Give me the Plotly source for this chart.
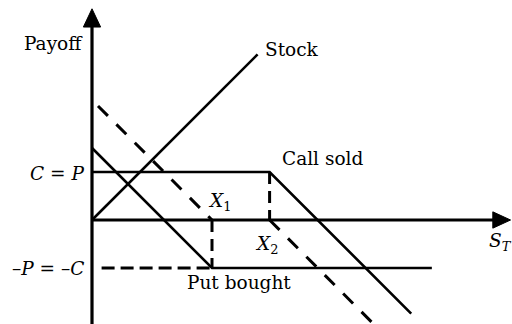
import plotly.graph_objects as go

# ---- data (abstract payoff units) ----
premium = 1.0            # C = P
strike_x1 = 2.5
strike_x2 = 3.7

stock_x = [0.0, 3.45]
stock_y = [0.0, 3.45]

call_sold_x = [0.0, strike_x2, 6.65]
call_sold_y = [premium, premium, -1.95]

put_bought_x = [0.0, strike_x1, 7.08]
put_bought_y = [1.5, -premium, -premium]

upper_dash_x = [0.125, strike_x1]
upper_dash_y = [2.375, 0.0]

lower_dash_x = [strike_x2, 6.2]
lower_dash_y = [0.0, -2.5]

x1_drop_x = [strike_x1, strike_x1]
x1_drop_y = [0.0, -premium]

x2_drop_x = [strike_x2, strike_x2]
x2_drop_y = [premium, 0.0]

neg_prem_x = [0.2, strike_x1]
neg_prem_y = [-premium, -premium]

# ---- layout constants ----
X_MIN, X_MAX = -92 / 48, 420 / 48
Y_MIN, Y_MAX = -104 / 48, 220 / 48
Y_ARROW_TIP, Y_ARROW_BASE, Y_ARROW_HALF = 4.40, 4.02, 0.18
X_ARROW_TIP, X_ARROW_BASE, X_ARROW_HALF = 8.72, 8.35, 0.17
FONT = "DejaVu Serif"
FS = 18.5

fig = go.Figure()

def line(x, y, width=2.6, dash="solid"):
    fig.add_trace(go.Scatter(x=x, y=y, mode="lines",
                             line=dict(color="black", width=width, dash=dash),
                             hoverinfo="skip"))

# axes
line([0, 0], [Y_MIN - 1, Y_ARROW_BASE + 0.02], width=3.2)
line([0, X_ARROW_BASE + 0.02], [0, 0], width=3.2)
fig.add_trace(go.Scatter(
    x=[-Y_ARROW_HALF, Y_ARROW_HALF, 0, -Y_ARROW_HALF],
    y=[Y_ARROW_BASE, Y_ARROW_BASE, Y_ARROW_TIP, Y_ARROW_BASE],
    mode="lines", fill="toself", fillcolor="black",
    line=dict(color="black", width=1), hoverinfo="skip"))
fig.add_trace(go.Scatter(
    x=[X_ARROW_BASE, X_ARROW_BASE, X_ARROW_TIP, X_ARROW_BASE],
    y=[-X_ARROW_HALF, X_ARROW_HALF, 0, -X_ARROW_HALF],
    mode="lines", fill="toself", fillcolor="black",
    line=dict(color="black", width=1), hoverinfo="skip"))

# payoff lines
line(stock_x, stock_y)
line(call_sold_x, call_sold_y)
line(put_bought_x, put_bought_y)
line(upper_dash_x, upper_dash_y, width=3, dash="14px,12px")
line(lower_dash_x, lower_dash_y, width=3, dash="14px,12px")
line(x1_drop_x, x1_drop_y, width=3, dash="12px,7px")
line(x2_drop_x, x2_drop_y, width=3, dash="12px,7px")
line(neg_prem_x, neg_prem_y, width=3, dash="13px,6px")

def label(text, x, y, xanchor="left"):
    fig.add_annotation(x=x, y=y, text=text, showarrow=False,
                       xanchor=xanchor, yanchor="middle",
                       font=dict(family=FONT, size=FS, color="black"))

label("Payoff", -0.15, 3.67, "right")
label("Stock", 3.56, 3.56)
label("Call sold", 3.92, 1.29)
label("<i>C</i> = <i>P</i>", -0.13, 0.97, "right")
label("–<i>P</i> = –<i>C</i>", -0.13, -1.0, "right")
label("<i>X</i><sub>1</sub>", 2.38, 0.38)
label("<i>X</i><sub>2</sub>", 3.36, -0.52)
label("<i>S</i><sub><i>T</i></sub>", 8.22, -0.46)
label("Put bought", 1.94, -1.31)

fig.update_layout(
    width=512, height=324,
    margin=dict(l=0, r=0, t=0, b=0),
    paper_bgcolor="white", plot_bgcolor="white",
    showlegend=False,
    font=dict(family=FONT, size=FS, color="black"),
    xaxis=dict(range=[X_MIN, X_MAX], visible=False, fixedrange=True),
    yaxis=dict(range=[Y_MIN, Y_MAX], visible=False, fixedrange=True),
)

fig.write_html("out.html", config={"displayModeBar": False},
               post_script="document.body.style.margin='0';document.body.style.overflow='hidden';")
